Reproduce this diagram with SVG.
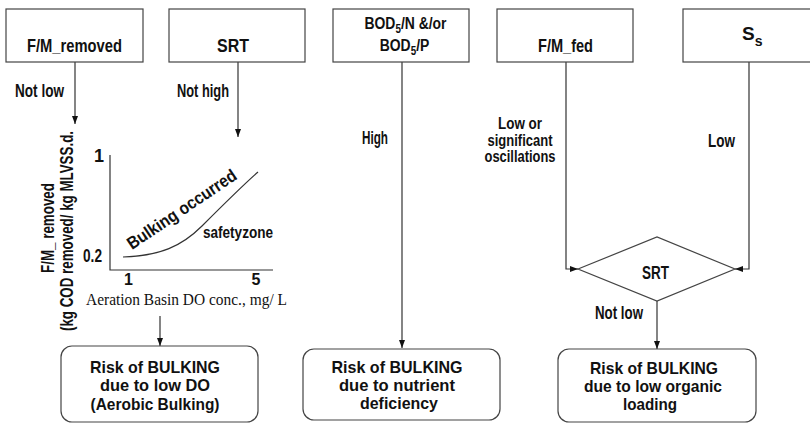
<svg xmlns="http://www.w3.org/2000/svg" width="810" height="423" viewBox="0 0 810 423">
<style>
.box{fill:#fff;stroke:#444;stroke-width:1.2}
.ln{fill:none;stroke:#333;stroke-width:1.2}
.t{font-family:"Liberation Sans",Arial,sans-serif;font-weight:bold;fill:#111}
.s{font-family:"Liberation Serif","Times New Roman",serif;fill:#111}
</style>
<defs>
<marker id="ah" viewBox="0 0 8 6" refX="8" refY="3" markerWidth="8" markerHeight="6" markerUnits="userSpaceOnUse" orient="auto">
<path d="M0,0 L8,3 L0,6 z" fill="#111"/>
</marker>
</defs>
<rect width="810" height="423" fill="#fff"/>

<g id="connectors">
<path class="ln" d="M75,62 V124" marker-end="url(#ah)"/>
<path class="ln" d="M238,62 V137" marker-end="url(#ah)"/>
<path class="ln" d="M402,62 V348" marker-end="url(#ah)"/>
<path class="ln" d="M566,62 V269 H578" marker-end="url(#ah)"/>
<path class="ln" d="M749,62 V269 H735" marker-end="url(#ah)"/>
<path class="ln" d="M657,301 V349" marker-end="url(#ah)"/>
<path class="ln" d="M160,316 V346" marker-end="url(#ah)"/>
<text class="t" x="15" y="97" font-size="18" textLength="49" lengthAdjust="spacingAndGlyphs">Not low</text>
<text class="t" x="177" y="97" font-size="18" textLength="52" lengthAdjust="spacingAndGlyphs">Not high</text>
<text class="t" x="362" y="144" font-size="18" textLength="26" lengthAdjust="spacingAndGlyphs">High</text>
<text class="t" x="520" y="129" font-size="16" text-anchor="middle" textLength="44" lengthAdjust="spacingAndGlyphs">Low or</text>
<text class="t" x="520" y="146" font-size="16" text-anchor="middle" textLength="65" lengthAdjust="spacingAndGlyphs">significant</text>
<text class="t" x="520" y="162" font-size="16" text-anchor="middle" textLength="71" lengthAdjust="spacingAndGlyphs">oscillations</text>
<text class="t" x="708" y="147" font-size="18" textLength="27" lengthAdjust="spacingAndGlyphs">Low</text>
<text class="t" x="595" y="319" font-size="18" textLength="48" lengthAdjust="spacingAndGlyphs">Not low</text>
</g>

<g id="fm-removed">
<rect class="box" x="6" y="9" width="137" height="53"/>
<text class="t" x="74.5" y="51.5" font-size="19" text-anchor="middle" textLength="95" lengthAdjust="spacingAndGlyphs">F/M_removed</text>
</g>
<g id="srt-top">
<rect class="box" x="169" y="9" width="136" height="53"/>
<text class="t" x="233" y="51.5" font-size="19" text-anchor="middle" textLength="32" lengthAdjust="spacingAndGlyphs">SRT</text>
</g>
<g id="bod">
<rect class="box" x="333" y="9" width="136" height="53"/>
<g transform="translate(405.5,29) scale(0.82,1)">
<text class="t" x="0" y="0" font-size="17" text-anchor="middle">BOD<tspan font-size="12" dy="4">5</tspan><tspan dy="-4">/N &amp;/or</tspan></text>
</g>
<g transform="translate(404.5,51) scale(0.82,1)">
<text class="t" x="0" y="0" font-size="17" text-anchor="middle">BOD<tspan font-size="12" dy="4">5</tspan><tspan dy="-4">/P</tspan></text>
</g>
</g>
<g id="fm-fed">
<rect class="box" x="497" y="9" width="136" height="53"/>
<text class="t" x="565.5" y="52" font-size="19" text-anchor="middle" textLength="55" lengthAdjust="spacingAndGlyphs">F/M_fed</text>
</g>
<g id="ss">
<rect class="box" x="683" y="9" width="136" height="53"/>
<text class="t" x="742" y="40" font-size="19">S<tspan font-size="14" dy="6">s</tspan></text>
</g>

<g id="graph">
<path class="ln" d="M110,155 V270 H273"/>
<path class="ln" d="M123,257 C160,256 182,246 202,226 S242,186 258,172" stroke-width="1"/>
<text class="t" x="99" y="162" font-size="18" text-anchor="middle">1</text>
<text class="t" x="102" y="262" font-size="18" text-anchor="end" textLength="19" lengthAdjust="spacingAndGlyphs">0.2</text>
<text class="t" x="128.5" y="285" font-size="16" text-anchor="middle">1</text>
<text class="t" x="256" y="285" font-size="16" text-anchor="middle">5</text>
<text class="s" x="86" y="305" font-size="17" textLength="201" lengthAdjust="spacingAndGlyphs">Aeration Basin DO conc., mg/ L</text>
<text class="t" x="203" y="238" font-size="16" textLength="70" lengthAdjust="spacingAndGlyphs">safetyzone</text>
<text class="t" transform="translate(132,250) rotate(-34)" x="0" y="0" font-size="17.5" textLength="128" lengthAdjust="spacingAndGlyphs">Bulking  occurred</text>
<text class="t" transform="translate(54,228) rotate(-90)" x="0" y="0" font-size="18" text-anchor="middle" textLength="90" lengthAdjust="spacingAndGlyphs">F/M_ removed</text>
<text class="t" transform="translate(73,231) rotate(-90)" x="0" y="0" font-size="18" text-anchor="middle" textLength="200" lengthAdjust="spacingAndGlyphs">(kg COD removed/ kg MLVSS.d.</text>
</g>

<g id="srt-diamond">
<polygon class="box" points="578,269 657,237 735,269 657,301"/>
<text class="t" x="655.5" y="279" font-size="18" text-anchor="middle" textLength="27" lengthAdjust="spacingAndGlyphs">SRT</text>
</g>

<g id="risk-do">
<rect class="box" x="61" y="346" width="197" height="76" rx="11"/>
<text class="t" x="155" y="373" font-size="17" text-anchor="middle" textLength="130" lengthAdjust="spacingAndGlyphs">Risk of BULKING</text>
<text class="t" x="155" y="391" font-size="17" text-anchor="middle" textLength="110" lengthAdjust="spacingAndGlyphs">due to low DO</text>
<text class="t" x="155" y="410" font-size="17" text-anchor="middle" textLength="129" lengthAdjust="spacingAndGlyphs">(Aerobic Bulking)</text>
</g>
<g id="risk-nutrient">
<rect class="box" x="303" y="349" width="197" height="71" rx="11"/>
<text class="t" x="397" y="373" font-size="17" text-anchor="middle" textLength="131" lengthAdjust="spacingAndGlyphs">Risk of BULKING</text>
<text class="t" x="397" y="391" font-size="17" text-anchor="middle" textLength="116" lengthAdjust="spacingAndGlyphs">due to nutrient</text>
<text class="t" x="399" y="409" font-size="17" text-anchor="middle" textLength="78" lengthAdjust="spacingAndGlyphs">deficiency</text>
</g>
<g id="risk-organic">
<rect class="box" x="558" y="349" width="198" height="73" rx="11"/>
<text class="t" x="654" y="374" font-size="17" text-anchor="middle" textLength="128" lengthAdjust="spacingAndGlyphs">Risk of BULKING</text>
<text class="t" x="653" y="392" font-size="17" text-anchor="middle" textLength="138" lengthAdjust="spacingAndGlyphs">due to low organic</text>
<text class="t" x="650" y="410" font-size="17" text-anchor="middle" textLength="54" lengthAdjust="spacingAndGlyphs">loading</text>
</g>
</svg>
